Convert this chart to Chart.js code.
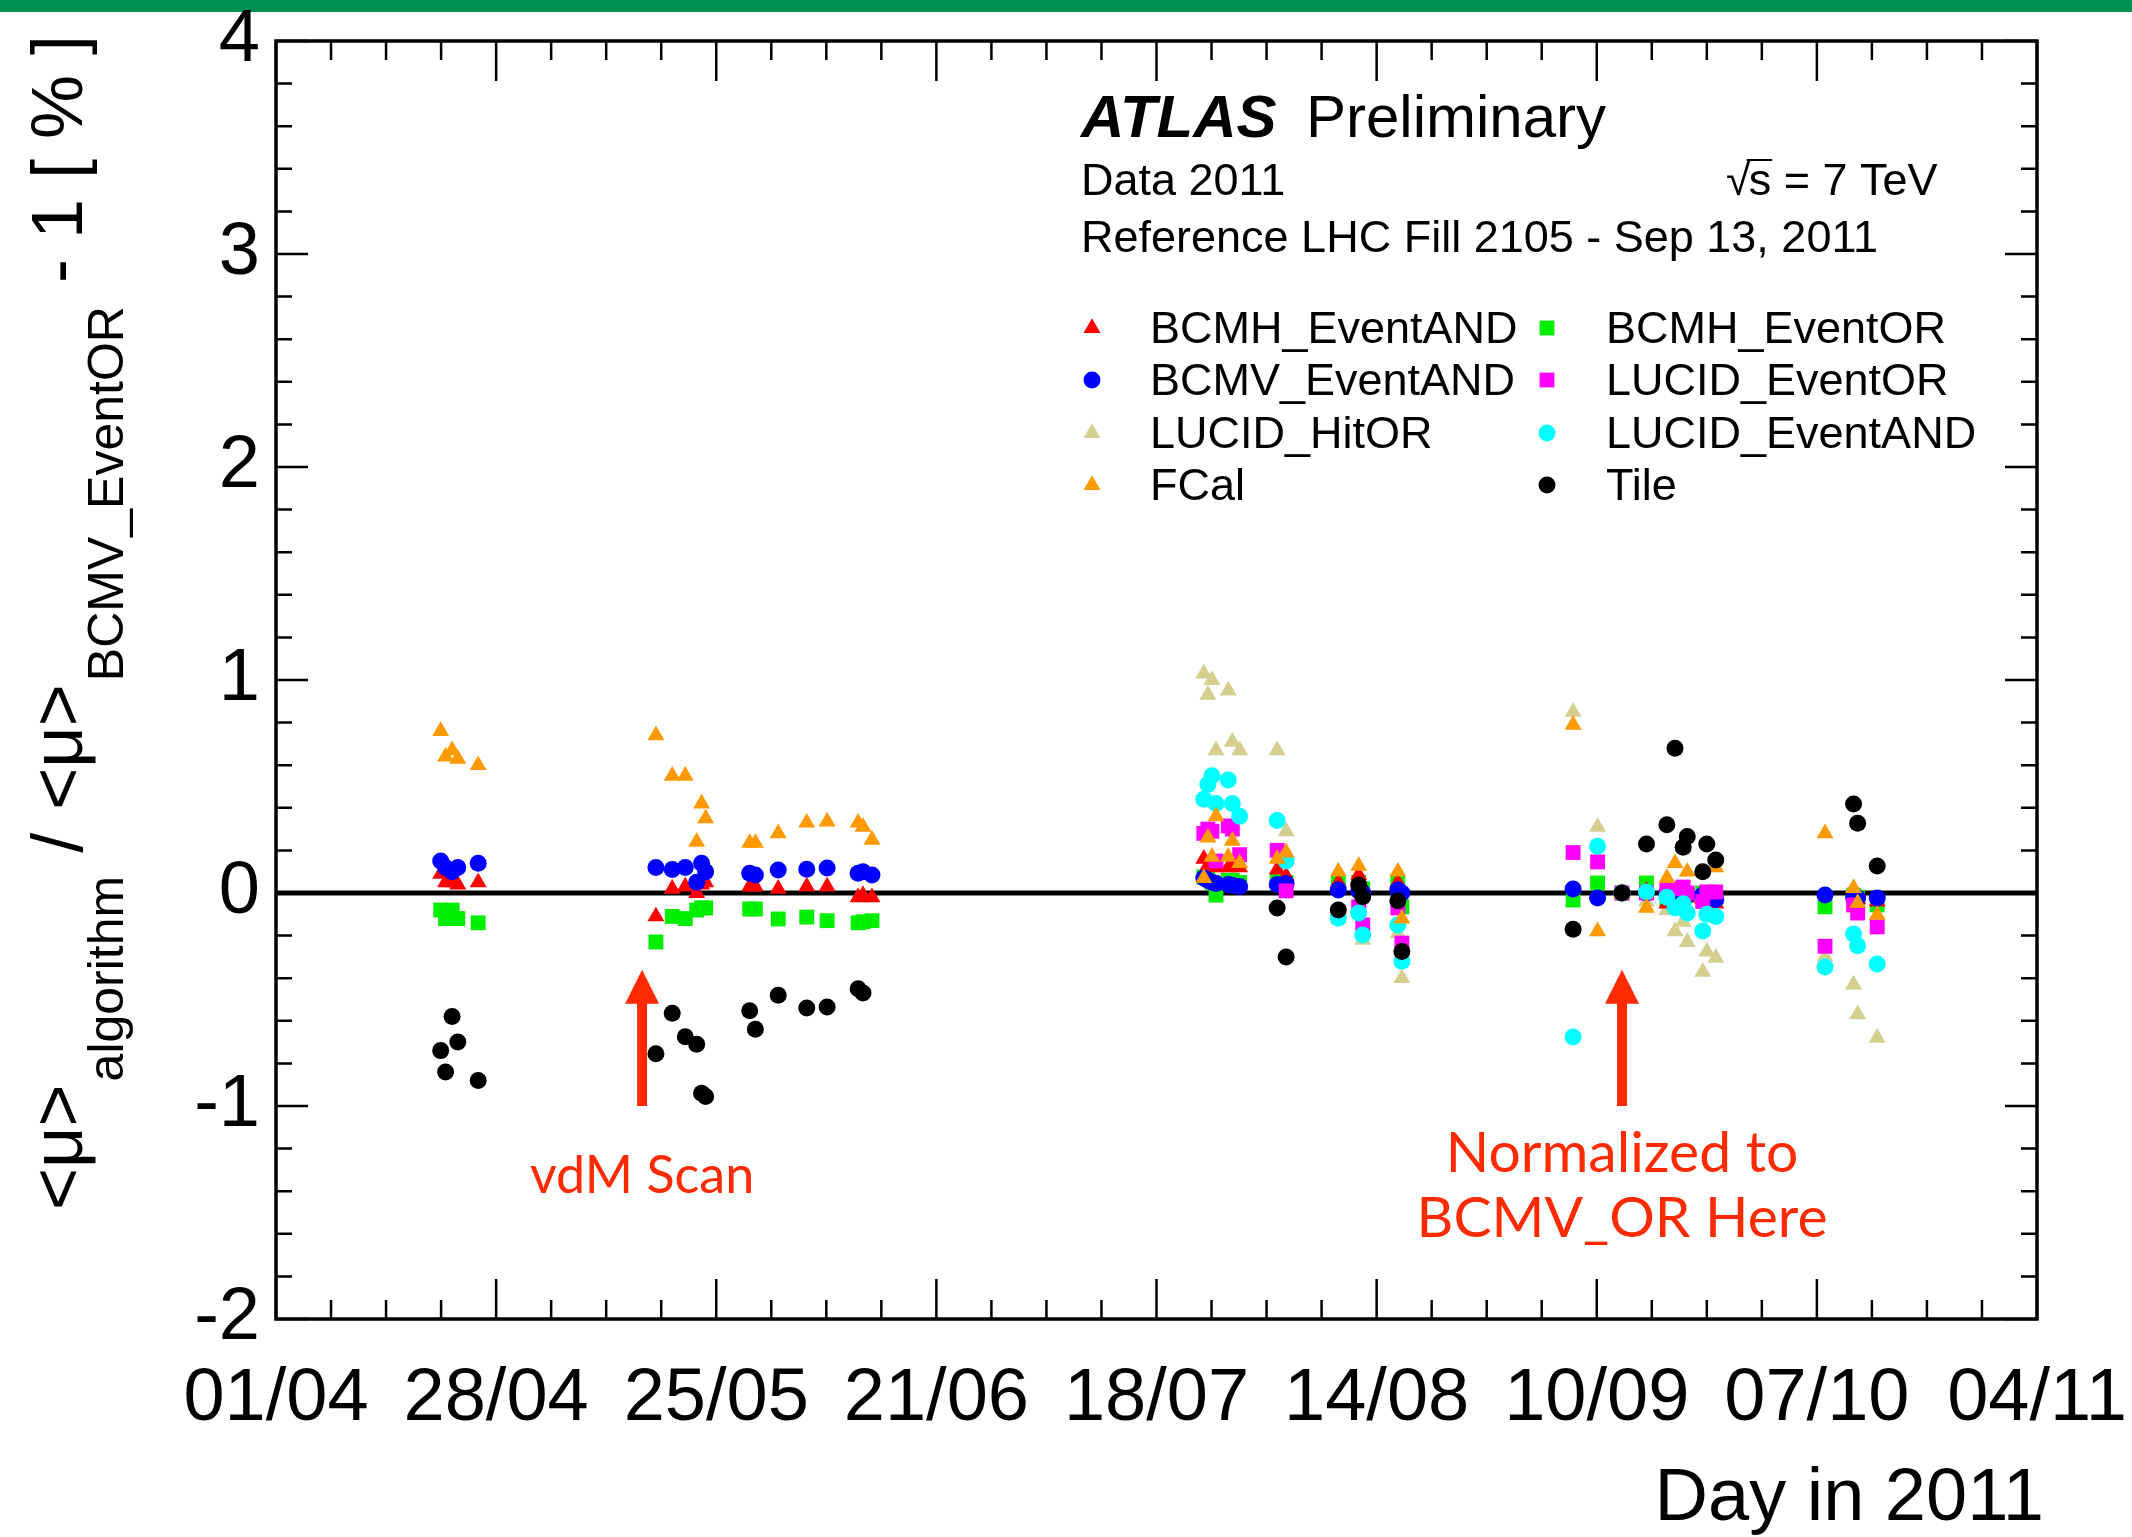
<!DOCTYPE html>
<html>
<head>
<meta charset="utf-8">
<title>Luminosity algorithm ratios - Data 2011</title>
<script src="https://cdn.jsdelivr.net/npm/chart.js"></script>
<style>
  html, body { margin: 0; padding: 0; background: #fff; }
  canvas { display: block; }
</style>
</head>
<body>
<canvas id="chart" width="2132" height="1537"></canvas>
<script>
// Day of year (2011) of each fill, grouped by running period
const fillDays = [
  111.2, 111.8, 112.6, 113.3, 115.8,
  137.6, 139.6, 141.2, 142.6, 143.2, 143.7,
  149.1, 149.8, 152.6, 156.1, 158.6, 162.4, 163.0, 164.1,
  204.8, 205.3, 205.8, 206.3, 207.8, 208.3, 209.2, 213.8, 214.9,
  221.3, 223.8, 224.3, 228.6, 229.1,
  250.1, 253.1, 256.1, 259.1, 261.6, 262.6, 263.6, 264.1, 266.0, 266.5, 267.6,
  281.0, 284.5, 285.0, 287.4
];

// <mu>_alg / <mu>_BCMV_EventOR - 1, in percent (null = no measurement)
const bcmhEventAND = [
  0.09, 0.05, 0.05, 0.04, 0.05,
  -0.11, 0.02, 0.03, 0.00, 0.04, 0.05,
  0.03, 0.03, 0.02, 0.03, 0.03, -0.02, -0.01, -0.02,
  0.16, 0.13, 0.15, 0.12, 0.12, 0.13, 0.12, 0.11, 0.08,
  0.05, 0.085, 0.03, 0.05, null,
  null, null, 0.00, 0.01, -0.05, -0.02, -0.01, -0.02, -0.03, -0.03, -0.05,
  null, 0.00, -0.03, -0.04
];
const bcmvEventAND = [
  0.15, 0.12, 0.10, 0.12, 0.14,
  0.12, 0.11, 0.12, 0.05, 0.14, 0.10,
  0.093, 0.085, 0.108, 0.112, 0.117, 0.093, 0.10, 0.085,
  0.07, 0.06, 0.05, 0.045, 0.04, 0.035, 0.03, 0.04, 0.045,
  0.014, 0.01, 0.00, 0.014, 0.00,
  0.019, -0.023, 0.00, 0.00, 0.00, 0.00, 0.00, -0.01, -0.01, -0.01, -0.03,
  -0.009, -0.02, -0.023, -0.023
];
const lucidHitOR = [
  null, null, null, null, null,
  null, null, null, null, null, null,
  null, null, null, null, null, null, null, null,
  1.03, 0.93, 1.00, 0.67, 0.95, 0.71, 0.67, 0.67, 0.29,
  -0.12, null, -0.22, -0.19, -0.40,
  0.85, 0.31, 0.00, -0.04, -0.08, -0.18, -0.135, -0.23, -0.37, -0.275, -0.305,
  -0.30, -0.43, -0.57, -0.68
];
const fcal = [
  0.76, 0.64, 0.67, 0.63, 0.60,
  0.74, 0.55, 0.55, 0.24, 0.42, 0.35,
  0.235, 0.235, 0.28, 0.33, 0.335, 0.33, 0.31, 0.25,
  0.07, 0.26, 0.17, 0.36, 0.17, 0.245, 0.14, 0.16, 0.19,
  0.10, 0.127, null, 0.10, -0.12,
  0.79, -0.18, 0.00, -0.07, 0.07, 0.14, null, 0.10, null, null, 0.12,
  0.28, 0.023, -0.047, -0.103
];
const bcmhEventOR = [
  -0.08, -0.12, -0.08, -0.12, -0.14,
  -0.23, -0.11, -0.12, -0.08, -0.07, -0.07,
  -0.075, -0.075, -0.122, -0.113, -0.13, -0.14, -0.135, -0.13,
  0.075, 0.07, 0.05, -0.01, 0.06, 0.06, 0.05, 0.06, 0.05,
  0.05, 0.05, 0.02, 0.05, -0.065,
  -0.033, 0.047, 0.00, 0.047, -0.03, 0.00, 0.00, -0.01, 0.00, -0.02, -0.02,
  -0.065, -0.01, -0.02, -0.056
];
const lucidEventOR = [
  null, null, null, null, null,
  null, null, null, null, null, null,
  null, null, null, null, null, null, null, null,
  0.28, 0.30, 0.29, 0.15, 0.315, 0.30, 0.18, 0.20, 0.01,
  -0.09, -0.065, -0.15, -0.07, -0.235,
  0.19, 0.146, 0.00, 0.00, 0.014, 0.02, 0.028, 0.00, -0.04, 0.005, 0.005,
  -0.25, -0.056, -0.094, -0.159
];
const lucidEventAND = [
  null, null, null, null, null,
  null, null, null, null, null, null,
  null, null, null, null, null, null, null, null,
  0.44, 0.51, 0.55, 0.42, 0.53, 0.42, 0.36, 0.34, 0.15,
  -0.118, -0.094, -0.197, -0.15, -0.32,
  -0.676, 0.22, 0.00, 0.005, -0.02, -0.07, -0.05, -0.094, -0.178, -0.10, -0.11,
  -0.347, -0.192, -0.248, -0.333
];
const tile = [
  -0.74, -0.84, -0.58, -0.70, -0.88,
  -0.755, -0.565, -0.675, -0.71, -0.94, -0.955,
  -0.553, -0.64, -0.48, -0.54, -0.535, -0.45, -0.47, null,
  null, null, null, null, null, null, null, -0.07, -0.30,
  -0.08, 0.037, -0.018, -0.036, -0.275,
  -0.17, null, 0.00, 0.23, 0.32, 0.68, 0.215, 0.265, 0.10, 0.23, 0.155,
  null, 0.418, 0.328, 0.127
];

const xTickDays = [91, 118, 145, 172, 199, 226, 253, 280, 307];
const xTickLabels = ['01/04', '28/04', '25/05', '21/06', '18/07', '14/08', '10/09', '07/10', '04/11'];
const yTickValues = [-2, -1, 0, 1, 2, 3, 4];

// vdM scan day and reference fill (Sep 13) day
const vdmScanDay = 135.9;
const referenceDay = 256.1;

const FONT = '"Liberation Sans", Arial, Helvetica, sans-serif';
const NOTE_FONT = 'Lato, "Open Sans", sans-serif';
const RED = '#ff2a00';

const series = [
  { label: 'BCMH_EventAND', values: bcmhEventAND, color: '#ff0000', style: 'triangle', order: 6 },
  { label: 'BCMV_EventAND', values: bcmvEventAND, color: '#0000ff', style: 'circle', order: 5 },
  { label: 'LUCID_HitOR', values: lucidHitOR, color: '#d4ce8f', style: 'triangle', order: 8 },
  { label: 'FCal', values: fcal, color: '#ff9900', style: 'triangle', order: 2 },
  { label: 'BCMH_EventOR', values: bcmhEventOR, color: '#00ee00', style: 'rect', order: 7 },
  { label: 'LUCID_EventOR', values: lucidEventOR, color: '#ff00ff', style: 'rect', order: 4 },
  { label: 'LUCID_EventAND', values: lucidEventAND, color: '#00ffff', style: 'circle', order: 3 },
  { label: 'Tile', values: tile, color: '#000000', style: 'circle', order: 1 }
];

const radiusFor = { circle: 8.5, rect: 10.5, triangle: 9.8 };

function toPoints(values) {
  const pts = [];
  values.forEach((v, i) => { if (v !== null) pts.push({ x: fillDays[i], y: v }); });
  return pts;
}

function marker(ctx, style, x, y, color) {
  const r = radiusFor[style];
  ctx.fillStyle = color;
  ctx.beginPath();
  if (style === 'circle') {
    ctx.arc(x, y, r, 0, Math.PI * 2);
  } else if (style === 'rect') {
    const h = r * Math.SQRT1_2;
    ctx.rect(x - h, y - h, 2 * h, 2 * h);
  } else {
    ctx.moveTo(x, y - r);
    ctx.lineTo(x + r * 0.866, y + r * 0.5);
    ctx.lineTo(x - r * 0.866, y + r * 0.5);
    ctx.closePath();
  }
  ctx.fill();
}

function arrow(ctx, x, yTip, yTail) {
  const head = 34, half = 17;
  ctx.save();
  ctx.strokeStyle = RED;
  ctx.fillStyle = RED;
  ctx.lineWidth = 10;
  ctx.beginPath();
  ctx.moveTo(x, yTail);
  ctx.lineTo(x, yTip + head - 2);
  ctx.stroke();
  ctx.beginPath();
  ctx.moveTo(x, yTip);
  ctx.lineTo(x + half, yTip + head);
  ctx.lineTo(x - half, yTip + head);
  ctx.closePath();
  ctx.fill();
  ctx.restore();
}

function yTitle(ctx) {
  const parts = [
    ['<μ>', false], ['algorithm', true], [' / ', false],
    ['<μ>', false], ['BCMV_EventOR', true], [' - 1 [ % ]', false]
  ];
  ctx.save();
  ctx.translate(82, 1210);
  ctx.rotate(-Math.PI / 2);
  ctx.fillStyle = '#000';
  ctx.textAlign = 'left';
  ctx.textBaseline = 'alphabetic';
  let pos = 0;
  parts.forEach(([text, sub]) => {
    ctx.font = (sub ? '50px ' : '72px ') + FONT;
    ctx.fillText(text, pos, sub ? 41 : 0);
    pos += ctx.measureText(text).width + 3;
  });
  ctx.restore();
}

const atlasDecor = {
  id: 'atlasDecor',
  beforeDraw(chart) {
    const ctx = chart.ctx;
    ctx.save();
    ctx.fillStyle = '#ffffff';
    ctx.fillRect(0, 0, chart.width, chart.height);
    ctx.fillStyle = '#009150';
    ctx.fillRect(0, 0, chart.width, 12);
    ctx.restore();
  },
  beforeDatasetsDraw(chart) {
    const { ctx, chartArea: a, scales: { y } } = chart;
    const y0 = y.getPixelForValue(0);
    ctx.save();
    ctx.strokeStyle = '#000';
    ctx.lineWidth = 5;
    ctx.beginPath();
    ctx.moveTo(a.left, y0);
    ctx.lineTo(a.right, y0);
    ctx.stroke();
    ctx.restore();
  },
  afterDatasetsDraw(chart) {
    const { ctx, chartArea: a, scales: { x, y } } = chart;
    ctx.save();

    // frame ticks on all four sides
    ctx.strokeStyle = '#000';
    ctx.lineWidth = 2.5;
    ctx.beginPath();
    const xStep = (xTickDays[1] - xTickDays[0]) / 4;
    for (let i = 0; i <= (xTickDays.length - 1) * 4; i++) {
      const px = x.getPixelForValue(xTickDays[0] + i * xStep);
      const len = i % 4 === 0 ? 40 : 19;
      ctx.moveTo(px, a.bottom); ctx.lineTo(px, a.bottom - len);
      ctx.moveTo(px, a.top); ctx.lineTo(px, a.top + len);
    }
    const yFirst = yTickValues[0];
    for (let i = 0; i <= (yTickValues.length - 1) * 5; i++) {
      const py = y.getPixelForValue(yFirst + i * 0.2);
      const len = i % 5 === 0 ? 32 : 16;
      ctx.moveTo(a.left, py); ctx.lineTo(a.left + len, py);
      ctx.moveTo(a.right, py); ctx.lineTo(a.right - len, py);
    }
    ctx.stroke();

    ctx.lineWidth = 3.5;
    ctx.strokeRect(a.left, a.top, a.right - a.left, a.bottom - a.top);

    // arrows and their labels
    arrow(ctx, x.getPixelForValue(vdmScanDay), y.getPixelForValue(-0.36), y.getPixelForValue(-1.0));
    arrow(ctx, x.getPixelForValue(referenceDay), y.getPixelForValue(-0.36), y.getPixelForValue(-1.0));
    ctx.fillStyle = RED;
    ctx.textAlign = 'center';
    ctx.textBaseline = 'alphabetic';
    ctx.font = '52px ' + NOTE_FONT;
    ctx.fillText('vdM Scan', x.getPixelForValue(vdmScanDay), y.getPixelForValue(-1.408));
    ctx.font = '57px ' + NOTE_FONT;
    ctx.fillText('Normalized to', x.getPixelForValue(referenceDay), y.getPixelForValue(-1.31));
    ctx.fillText('BCMV_OR Here', x.getPixelForValue(referenceDay), y.getPixelForValue(-1.615));

    // header
    ctx.fillStyle = '#000';
    ctx.textAlign = 'left';
    ctx.font = 'italic bold 60px ' + FONT;
    ctx.fillText('ATLAS', 1081, 137);
    ctx.font = '60px ' + FONT;
    ctx.fillText('Preliminary', 1306, 137);
    ctx.font = '45px ' + FONT;
    ctx.fillText('Data 2011', 1081, 195);
    ctx.fillText('Reference LHC Fill 2105 - Sep 13, 2011', 1081, 252);
    let sx = 1726;
    ctx.fillText('√', sx, 195);
    sx += ctx.measureText('√').width - 2;
    const sW = ctx.measureText('s').width;
    ctx.fillText('s', sx, 195);
    ctx.lineWidth = 2;
    ctx.beginPath();
    ctx.moveTo(sx - 2, 160); ctx.lineTo(sx + sW + 1, 160);
    ctx.stroke();
    ctx.fillText(' = 7 TeV', sx + sW, 195);

    // legend, two columns of four
    const rowY = [328, 380, 433, 485];
    chart.data.datasets.forEach((ds, i) => {
      const col = i < 4 ? 0 : 1;
      const row = i % 4;
      const mx = col === 0 ? 1092 : 1547;
      const tx = col === 0 ? 1150 : 1606;
      marker(ctx, ds.pointStyle, mx, rowY[row], ds.backgroundColor);
      ctx.fillStyle = '#000';
      ctx.font = '45px ' + FONT;
      ctx.fillText(ds.label, tx, rowY[row] + 15);
    });

    // axis titles
    ctx.textAlign = 'right';
    ctx.font = '74px ' + FONT;
    ctx.fillText('Day in 2011', 2044, 1520);
    yTitle(ctx);

    ctx.restore();
  }
};

new Chart(document.getElementById('chart'), {
  type: 'scatter',
  data: {
    datasets: series.map(s => ({
      label: s.label,
      data: toPoints(s.values),
      pointStyle: s.style,
      pointRadius: radiusFor[s.style],
      backgroundColor: s.color,
      borderColor: s.color,
      borderWidth: 0,
      showLine: false,
      order: s.order
    }))
  },
  options: {
    responsive: false,
    animation: false,
    events: [],
    layout: { padding: { top: 41, right: 95, left: 0, bottom: 0 } },
    plugins: { legend: { display: false }, tooltip: { enabled: false } },
    scales: {
      x: {
        type: 'linear',
        min: xTickDays[0],
        max: xTickDays[xTickDays.length - 1],
        afterBuildTicks: s => { s.ticks = xTickDays.map(v => ({ value: v })); },
        afterFit: s => { s.height = 218; s.paddingLeft = 0; s.paddingRight = 0; },
        ticks: {
          autoSkip: false,
          maxRotation: 0,
          padding: 28,
          color: '#000',
          font: { family: FONT, size: 74 },
          callback: (v, i) => xTickLabels[i]
        },
        grid: { display: false },
        border: { display: false }
      },
      y: {
        min: yTickValues[0],
        max: yTickValues[yTickValues.length - 1],
        afterBuildTicks: s => { s.ticks = yTickValues.map(v => ({ value: v })); },
        afterFit: s => { s.width = 276; s.paddingTop = 0; s.paddingBottom = 0; },
        ticks: {
          padding: 8,
          color: '#000',
          font: { family: FONT, size: 74 },
          callback: v => String(v)
        },
        grid: { display: false },
        border: { display: false }
      }
    }
  },
  plugins: [atlasDecor]
});
</script>
</body>
</html>
